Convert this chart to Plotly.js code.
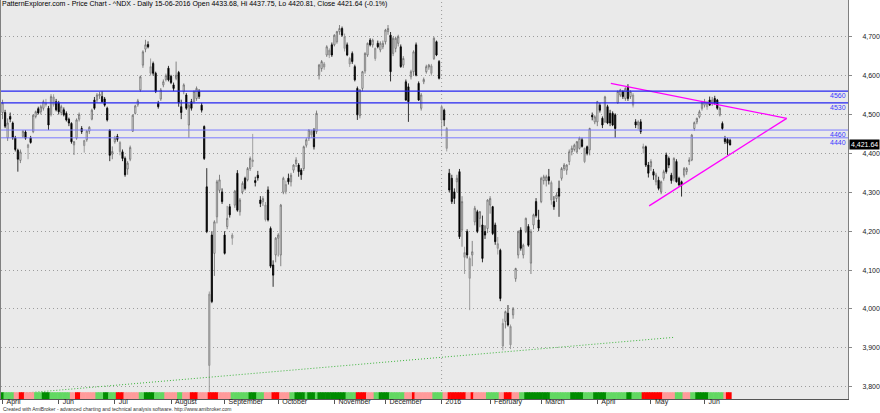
<!DOCTYPE html>
<html><head><meta charset="utf-8">
<script src="https://cdn.plot.ly/plotly-3.0.1.min.js"></script>
<style>html,body{margin:0;padding:0;background:#fff}#chart{width:880px;height:413px}</style>
</head><body><div id="chart"></div>
<script>
// ---------- data ----------
const holidays = ['2015-05-25','2015-07-03','2015-09-07','2015-11-26','2015-12-25','2016-01-01','2016-01-18','2016-02-15','2016-03-25','2016-05-30'];
function tradingDays(startISO, endISO, skip) {
  const out = [];
  const d = new Date(startISO + 'T00:00:00Z');
  const end = new Date(endISO + 'T00:00:00Z');
  while (d <= end) {
    const wd = d.getUTCDay();
    const iso = d.toISOString().slice(0, 10);
    if (wd !== 0 && wd !== 6 && skip.indexOf(iso) < 0) out.push(iso);
    d.setUTCDate(d.getUTCDate() + 1);
  }
  return out;
}
const dates = tradingDays('2015-04-29', '2016-06-15', holidays);

const open = [
 4505,4505,4440,4495,4478,4440,4408,4382,4444,4455,4415,4440,4456,4495,4515,4507,4516,4525,4516,4500,4525,4533,
 4530,4505,4512,4503,4488,4477,4422,4439,4488,4464,4420,4435,4457,4488,4537,4537,4548,4546,4540,4516,4460,4398,
 4430,4444,4405,4404,4387,4360,4385,4457,4503,4525,4563,4627,4668,4680,4606,4631,4606,4529,4540,4576,4590,4619,
 4598,4576,4593,4608,4520,4559,4550,4473,4533,4533,4541,4559,4524,4469,4314,3855,4190,4143,4237,4305,4301,
 4190,4212,4263,4182,4267,4349,4250,4301,4336,4332,4361,4379,4330,4344,4280,4276,4230,4306,4207,4113,4139,
 4182,4139,4300,4302,4336,4327,4357,4374,4370,4357,4361,4421,4439,4448,4460,4456,4601,4618,4622,4653,4653,4679,
 4679,4687,4713,4721,4670,4679,4630,4657,4623,4567,4497,4567,4612,4653,4691,4679,4644,4683,4666,4674,
 4687,4713,4704,4657,4670,4683,4674,4627,4584,4571,4597,4610,4679,4580,4516,4584,4610,4622,4606,4644,4687,4636,
 4486,4511,4413,4349,4336,4301,4327,4353,4203,4133,4199,4079,4139,4224,4250,4233,4216,4199,4207,
 4267,4263,4216,4156,4151,3905,3968,3989,3908,3985,4078,4139,4203,4139,4199,4212,4118,4216,4276,4229,
 4276,4330,4330,4340,4280,4276,4284,4310,4336,4361,4357,4379,4404,4410,4404,4413,4435,4379,4417,4409,4498,4481,
 4481,4524,4490,4481,4520,4503,4503,4499,4530,4550,4559,4541,4571,4546,4524,4481,4473,4481,4413,4417,4370,
 4366,4353,4327,4331,4301,4336,4396,4387,4344,4336,4379,4336,4327,4344,4353,4379,4383,4464,4481,4494,4516,
 4524,4520,4537,4528,4541,4537,4499,4477,4439,4436,4433.68
];
const high = [
 4538,4512,4490,4505,4482,4445,4412,4410,4460,4460,4425,4445,4500,4510,4520,4525,4538,4540,4522,4552,4552,4540,
 4535,4525,4518,4508,4492,4480,4432,4490,4505,4470,4435,4460,4470,4515,4545,4555,4558,4560,4545,4520,4462,4418,
 4445,4450,4432,4410,4392,4380,4420,4500,4525,4540,4600,4665,4692,4688,4644,4636,4610,4535,4568,4590,4605,4625,
 4602,4582,4636,4612,4538,4580,4555,4528,4540,4562,4572,4565,4530,4472,4362,4045,4200,4228,4332,4345,4310,
 4200,4265,4270,4195,4306,4357,4285,4328,4340,4365,4392,4450,4340,4355,4290,4290,4275,4315,4212,4125,4185,
 4195,4270,4340,4330,4348,4350,4372,4390,4375,4362,4420,4440,4462,4460,4465,4510,4630,4640,4635,4678,4670,4685,
 4706,4715,4730,4726,4708,4685,4648,4662,4628,4572,4565,4612,4660,4685,4696,4695,4672,4690,4688,4690,
 4720,4730,4712,4700,4700,4705,4680,4650,4590,4580,4615,4665,4685,4585,4555,4595,4628,4630,4630,4700,4690,4640,
 4525,4515,4468,4360,4345,4310,4345,4360,4290,4160,4205,4135,4175,4265,4255,4252,4240,4215,4282,
 4290,4265,4222,4185,4155,3975,3996,4010,3960,4005,4106,4202,4210,4168,4235,4218,4205,4245,4285,4255,
 4340,4345,4345,4360,4330,4290,4300,4330,4365,4375,4372,4410,4420,4425,4432,4443,4440,4415,4420,4466,4505,4498,
 4535,4530,4495,4548,4525,4512,4508,4503,4562,4566,4562,4570,4578,4562,4555,4488,4485,4488,4425,4420,4378,
 4385,4360,4350,4340,4330,4358,4402,4392,4350,4390,4385,4340,4330,4365,4365,4390,4450,4482,4492,4512,4535,
 4540,4535,4546,4545,4548,4540,4520,4482,4445,4440,4437.75
];
const low = [
 4488,4465,4432,4480,4435,4405,4353,4375,4440,4435,4385,4425,4452,4490,4500,4500,4510,4520,4460,4495,4520,4508,
 4500,4498,4495,4482,4470,4425,4396,4435,4482,4450,4402,4430,4450,4485,4512,4530,4540,4530,4520,4482,4380,4385,
 4425,4430,4395,4380,4340,4345,4380,4455,4500,4520,4558,4620,4660,4670,4600,4600,4555,4515,4535,4570,4585,4585,
 4578,4560,4588,4520,4488,4552,4512,4440,4510,4528,4535,4540,4505,4383,4195,3787,4015,4085,4220,4298,4270,
 4140,4205,4235,4165,4260,4250,4240,4295,4305,4328,4355,4365,4315,4330,4262,4265,4225,4225,4105,4057,4120,
 4135,4110,4295,4295,4320,4315,4350,4365,4340,4332,4355,4415,4432,4440,4410,4450,4590,4610,4615,4648,4645,4648,
 4675,4682,4705,4700,4662,4650,4622,4630,4585,4486,4490,4560,4605,4648,4675,4672,4638,4670,4660,4668,
 4680,4705,4585,4650,4660,4675,4620,4620,4535,4481,4590,4600,4598,4535,4510,4578,4605,4615,4600,4640,4650,4590,
 4443,4470,4405,4300,4270,4270,4300,4180,4160,4090,4130,3997,4110,4215,4195,4210,4120,4180,4195,
 4245,4190,4165,4140,4020,3894,3950,3955,3897,3975,4070,4130,4150,4130,4195,4160,4090,4205,4235,4200,
 4272,4320,4315,4320,4268,4255,4275,4237,4330,4355,4345,4370,4395,4405,4400,4410,4415,4375,4395,4395,4485,4475,
 4470,4505,4465,4478,4475,4470,4470,4440,4527,4545,4540,4535,4535,4540,4518,4465,4462,4450,4400,4365,4338,
 4355,4332,4318,4305,4295,4330,4348,4362,4322,4328,4325,4315,4289,4338,4345,4370,4380,4458,4475,4490,4510,
 4518,4512,4522,4522,4525,4512,4495,4460,4424,4396,4420.81
];
const close = [
 4530,4470,4478,4488,4440,4410,4385,4404,4457,4439,4422,4428,4498,4507,4504,4520,4533,4530,4473,4546,4545,4512,
 4507,4520,4499,4486,4478,4430,4430,4486,4500,4456,4433,4457,4467,4511,4516,4550,4552,4533,4524,4486,4395,4405,
 4439,4436,4428,4387,4345,4375,4415,4498,4522,4535,4597,4661,4679,4674,4623,4606,4559,4520,4563,4584,4600,4589,
 4582,4567,4601,4530,4505,4576,4516,4524,4516,4559,4567,4546,4511,4387,4199,4038,4019,4224,4327,4332,4276,
 4143,4233,4242,4190,4303,4254,4280,4323,4310,4361,4387,4383,4325,4337,4271,4284,4267,4229,4110,4087,4182,
 4190,4267,4336,4320,4327,4344,4370,4383,4353,4345,4417,4435,4460,4457,4417,4503,4627,4636,4630,4674,4665,4653,
 4704,4713,4721,4704,4700,4653,4644,4636,4589,4499,4563,4610,4657,4683,4679,4691,4670,4674,4683,4683,
 4717,4721,4610,4696,4696,4700,4623,4644,4537,4533,4610,4661,4601,4537,4550,4590,4623,4627,4625,4696,4653,4593,
 4520,4486,4464,4306,4276,4284,4336,4186,4276,4145,4139,4130,4147,4259,4199,4250,4130,4190,4280,
 4284,4194,4173,4168,4027,3963,3993,3959,3955,4001,4104,4199,4156,4164,4233,4164,4199,4242,4240,4208,
 4336,4340,4340,4330,4325,4263,4293,4290,4361,4370,4370,4404,4413,4421,4430,4439,4418,4413,4400,4464,4494,4494,
 4533,4511,4473,4545,4478,4478,4473,4464,4559,4563,4546,4567,4541,4559,4550,4473,4481,4456,4417,4370,4349,
 4379,4344,4344,4310,4327,4353,4353,4370,4330,4387,4327,4319,4319,4361,4361,4383,4447,4479,4490,4507,4530,
 4533,4530,4524,4537,4529,4516,4516,4464,4430,4426,4421.64
];

// Ribbon state per bar: G = strong up, g = up, p = down, R = strong down
const ribbonRuns = ["G","gggg","pp","RR","pppp","ggg","GGG","gggggggg","pp","RR","pppppp","ggg","GG","ggg","RRR","pppppp","gg","GGGG","gggg","ppppp","gg","ppp","RRR","pppp","RRRR","ppppp","ggggggg","GGG","ggg","ppp","RRR","pppp","gg","GGGG","g","GGG","g","GGGGGGGGGGG","gggg","RRRR","ppp","gg","GGGG","gggggg","ppp","R","ppppppp","gggg","pp","RRRRRRR","pp","R","ppppp","ggggg","pp","RRR","ppp","gg","GGGGGGGGGG","gggggggg","GGGGG","gggg","GGGGG","gggggggg","GG","gggg","RRRRRRRR","ppppp","ggg","ppp","gg","GGGGG","gggggg","p","RR"];
const ribbon = ribbonRuns.join('').split('');

const levels = [4560, 4530, 4460, 4440];
const priceTicks = [3800, 3900, 4000, 4100, 4200, 4300, 4400, 4500, 4600, 4700];
const monthTickDates = ['2015-04-29','2015-06-01','2015-07-01','2015-08-03','2015-09-01','2015-10-01','2015-11-02','2015-12-01','2016-01-04','2016-02-01','2016-03-01','2016-04-01','2016-05-02','2016-06-01'];
const monthTickLabels = ['April','Jun','Jul','August','September','October','November','December','2016','February','March','April','May','Jun'];
// drawn trend lines (bar number, price)
const trendUpperX = [238.3, 307.2], trendUpperY = [4580, 4490];
const trendLowerX = [253.3, 307.2], trendLowerY = [4265, 4490];
const supportX = [0, 262.9], supportY = [3779, 3927];

// ---------- build ----------
const xIdx = dates.map((d, i) => i);
const groups = {white: [], gray: [], black: []};
for (let i = 0; i < close.length; i++) {
  if (close[i] < open[i]) groups.black.push(i);
  else if (i > 0 && close[i] < close[i - 1]) groups.gray.push(i);
  else groups.white.push(i);
}
function candle(idxs, fill, line) {
  const st = {fillcolor: fill, line: {color: line, width: 0.8}};
  return {type: 'candlestick', x: idxs.map(i => xIdx[i]),
    open: idxs.map(i => open[i]), high: idxs.map(i => high[i]),
    low: idxs.map(i => low[i]), close: idxs.map(i => close[i]),
    increasing: st, decreasing: st, whiskerwidth: 0, line: {width: 0.8},
    hoverinfo: 'skip', showlegend: false};
}
const ribbonColors = {G: '#008c00', g: '#62d862', R: '#ff0000', p: '#ff9a9a'};

const traces = [
  {type: 'bar', x: xIdx, y: xIdx.map(() => 0.017), base: 0, width: 1.25, yaxis: 'y2',
   marker: {color: ribbon.map(c => ribbonColors[c]), line: {width: 0}}, hoverinfo: 'skip', showlegend: false},
  {type: 'scatter', mode: 'lines', x: supportX, y: supportY, line: {color: '#3cb43c', width: 1, dash: '1px,2px'}, hoverinfo: 'skip'},
  candle(groups.white, '#ffffff', '#6a6a6a'),
  candle(groups.gray, '#b0b0b0', '#8c8c8c'),
  candle(groups.black, '#000000', '#000000'),
  {type: 'scatter', mode: 'lines', x: trendUpperX, y: trendUpperY, line: {color: '#ff00ff', width: 1.3}, hoverinfo: 'skip'},
  {type: 'scatter', mode: 'lines', x: trendLowerX, y: trendLowerY, line: {color: '#ff00ff', width: 1.3}, hoverinfo: 'skip'}
];

const last = close.length - 1;
const pct = ((close[last] / close[last - 1] - 1) * 100).toFixed(1);
const d = dates[last].split('-');
const titleText = 'PatternExplorer.com - Price Chart - ^NDX - Daily ' + d[2] + '-' + d[1] + '-' + d[0] +
  ' Open ' + open[last].toFixed(2) + ', Hi ' + high[last].toFixed(2) + ', Lo ' + low[last].toFixed(2) +
  ', Close ' + close[last].toFixed(2) + ' (' + pct + '%)';

const shapes = levels.map((v, k) => ({type: 'line', xref: 'paper', x0: 0, x1: 1, yref: 'y', y0: v, y1: v,
  line: {color: k < 2 ? '#2424f0' : '#7a7aff', width: k < 2 ? 1.3 : 1}}));
const yearIdx = dates.indexOf('2016-01-04');
shapes.push({type: 'line', xref: 'x', x0: yearIdx, x1: yearIdx, yref: 'paper', y0: 0, y1: 1,
  line: {color: '#9a9a9a', width: 1, dash: '1px,3px'}, layer: 'below'});

const annotations = levels.map(v => ({xref: 'paper', x: 1, xanchor: 'right', yref: 'y', y: v, yanchor: 'top',
  text: String(v), showarrow: false, font: {size: 7, color: '#3a3aff'}, xshift: -1, borderpad: 0}));
annotations.push({xref: 'paper', x: 1, xanchor: 'left', yref: 'y', y: close[last], yanchor: 'middle',
  text: close[last].toLocaleString('en-US', {minimumFractionDigits: 2}), showarrow: false,
  font: {size: 7, color: '#ffffff'}, bgcolor: '#000000', borderpad: 1, xshift: 1});
annotations.push({xref: 'paper', x: 0, xanchor: 'left', yref: 'paper', y: 0, yanchor: 'middle',
  text: 'Created with AmiBroker - advanced charting and technical analysis software. http://www.amibroker.com',
  showarrow: false, font: {size: 5, color: '#333'}, xshift: 1, yshift: -10, borderpad: 0});

const layout = {
  width: 880, height: 413,
  margin: {l: 1, r: 32, t: 0, b: 14, pad: 0},
  paper_bgcolor: '#ffffff', plot_bgcolor: '#eaeaea',
  showlegend: false,
  font: {family: '"Liberation Sans", Arial, sans-serif', size: 7, color: '#222'},
  title: {text: titleText, x: 2 / 880, xanchor: 'left', xref: 'container', y: 1 - 1 / 413, yanchor: 'top',
    yref: 'container', font: {size: 7, color: '#000'}, pad: {t: 0, l: 0, r: 0, b: 0}},
  xaxis: {type: 'linear', range: [-0.6, 331.2], tickmode: 'array',
    tickvals: monthTickDates.map(t => dates.indexOf(t)), ticktext: monthTickLabels,
    ticks: 'outside', ticklen: 4, tickcolor: '#555', ticklabelposition: 'outside right', ticklabelstandoff: -4,
    ticklabelshift: 3,
    showgrid: false, zeroline: false, showline: true, linecolor: '#555', linewidth: 1, mirror: true,
    rangeslider: {visible: false}, fixedrange: true, tickfont: {size: 7, color: '#222'}},
  yaxis: {side: 'right', range: [3768.6, 4794.3], tickmode: 'array', tickvals: priceTicks, tickformat: ',d',
    ticks: 'outside', ticklen: 3, tickcolor: '#888', showgrid: true, gridcolor: '#9c9c9c',
    griddash: '1px,3px', gridwidth: 1, zeroline: false, showline: true, linecolor: '#808080', mirror: true,
    ticklabelstandoff: 9, tickfont: {size: 7, color: '#222'}, fixedrange: true},
  yaxis2: {overlaying: 'y', range: [0, 1], visible: false, fixedrange: true},
  barmode: 'overlay',
  shapes: shapes,
  annotations: annotations
};

Plotly.newPlot('chart', traces, layout, {staticPlot: true, displayModeBar: false});
</script>
</body></html>
